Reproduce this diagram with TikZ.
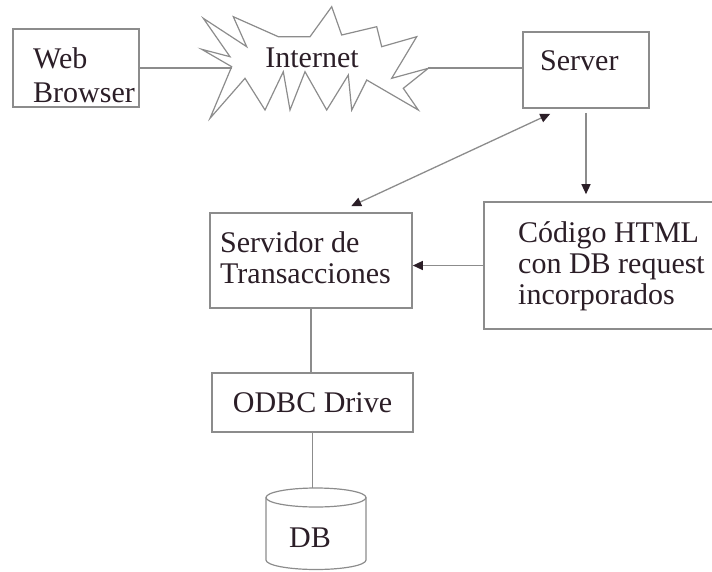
\documentclass[tikz,border=0pt]{standalone}
\usepackage{fontspec}
\setmainfont{Liberation Serif}
\usetikzlibrary{arrows.meta,positioning,calc}
\definecolor{DiagGray}{HTML}{8C8C8C}
\definecolor{DiagInk}{HTML}{2B1E27}

\begin{document}
\begin{tikzpicture}[
    x=1pt,y=-1pt,
    box/.style={draw=DiagGray,line width=1.6pt,inner sep=0pt},
    txt/.style={inner sep=0pt,align=left,text=DiagInk,font=\fontsize{30}{31}\selectfont},
    link/.style={DiagGray,line width=1.3pt},
    arr/.style={link,-{Triangle[length=10pt,width=9pt,color=DiagInk]}},
    arrboth/.style={link,{Triangle[length=10pt,width=9pt,color=DiagInk]}-{Triangle[length=10pt,width=9pt,color=DiagInk]}}
  ]
    \useasboundingbox (0,0) rectangle (712,571);

    % boxes
    \node[box,minimum width=126pt,minimum height=78pt] (web) at (76,68) {};
    \node[box,minimum width=126pt,minimum height=76pt] (server) at (586,70) {};
    \node[box,minimum width=232pt,minimum height=127pt] (html) at (600,265.5) {};
    \node[box,minimum width=202pt,minimum height=95pt] (trans) at (311,260.5) {};
    \node[box,minimum width=201pt,minimum height=59pt] (odbc) at (312.5,402.5) {};

    % texts
    \node[txt,anchor=north west,font=\fontsize{30}{34}\selectfont] (webtxt) at (33,47.5) {Web\\Browser};
    \node[txt,anchor=north west] (servertxt) at (540,50) {Server};
    \node[txt,anchor=north west] (htmltxt) at (518,221) {Código HTML\\con DB request\\incorporados};
    \node[txt,anchor=north west] (transtxt) at (220,231.5) {Servidor de\\Transacciones};
    \node[txt] (odbctxt) at (odbc) {ODBC Drive};

    % internet cloud
    \draw[DiagGray,line width=1.2pt,line join=miter]
      (231.7,66.7) -- (201.7,49.3) -- (230,56.7) -- (203.3,18.3) -- (246.7,46.7)
      -- (233.3,16.7) -- (278.3,36.7) -- (310,36.7) -- (331.7,6.7) -- (341.7,35)
      -- (376.7,26.7) -- (381.7,46.7) -- (416.7,36.7) -- (391.7,78.3) -- (428.3,68.3)
      -- (403.3,88.3) -- (418.3,110) -- (366.7,80) -- (351.7,110) -- (348.3,75)
      -- (326.7,110) -- (305,71.7) -- (290,110) -- (283.3,71.7) -- (265,110)
      -- (245,78.3) -- (210,118.3) -- cycle;
    \node[txt] (inet) at (312,58) {Internet};
    \coordinate (inetw) at (231.7,68);
    \coordinate (inete) at (428.3,68);

    % database
    \draw[DiagGray,line width=1.2pt] (266,497.5) -- (266,560) arc[start angle=180,end angle=0,x radius=50,y radius=9.5] -- (366,497.5);
    \draw[DiagGray,line width=1.2pt] (316,497.5) ellipse[x radius=50,y radius=9.5];
    \coordinate (dbtop) at (313,488);
    \node[txt] (db) at (310,538) {DB};

    % connectors
    \draw[link] (web) -- (inetw);
    \draw[link] (inete) -- (inete -| server.west);
    \draw[arr,shorten <=4pt,shorten >=7pt] (server.south) -- (server.south |- html.north);
    \draw[arr] (html.west) -- (html.west -| trans.east);
    \draw[arrboth] ($(server.south west)+(28,5)$) -- ($(trans.north west)+(142,-6)$);
    \draw[link] (trans.south) -- (trans.south |- odbc.north);
    \draw[link] (odbc.south) -- (odbc.south |- dbtop);
\end{tikzpicture}
\end{document}
